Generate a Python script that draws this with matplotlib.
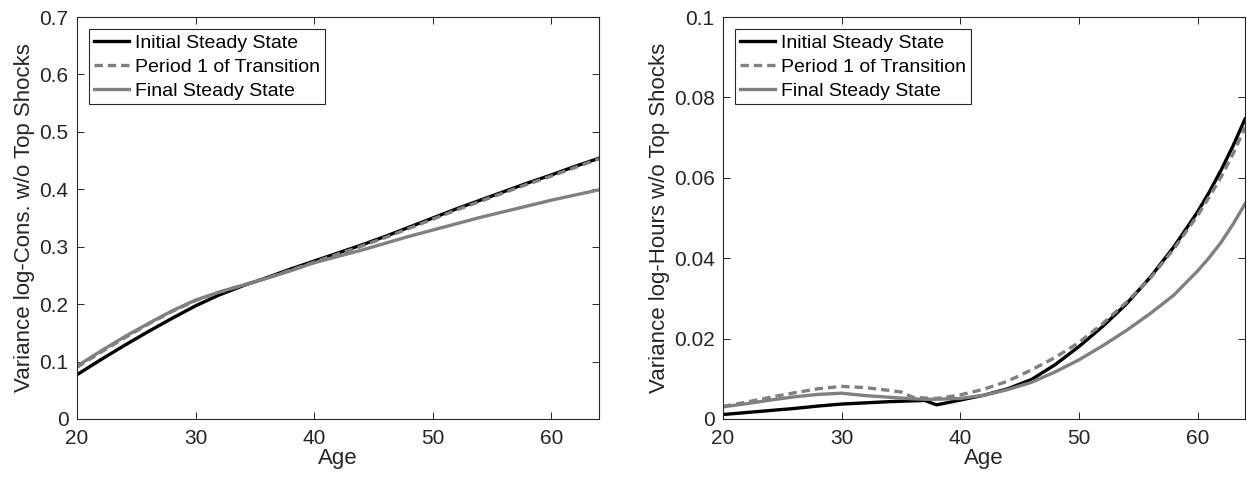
import matplotlib.pyplot as plt
import numpy as np

plt.rcParams['font.family'] = ['Liberation Sans', 'DejaVu Sans']

# left panel: variance log-consumption
age_c = [20, 22, 24, 26, 28, 30, 32, 34, 36, 38, 40, 42, 44, 46, 48, 50, 52, 54, 56, 58, 60, 62, 64]
cons_init = [0.077, 0.103, 0.128, 0.152, 0.175, 0.197, 0.216, 0.232, 0.246, 0.261, 0.275, 0.289,
             0.303, 0.318, 0.334, 0.350, 0.366, 0.381, 0.396, 0.411, 0.425, 0.440, 0.454]
cons_trans = [0.090, 0.116, 0.141, 0.165, 0.187, 0.206, 0.221, 0.233, 0.245, 0.259, 0.273, 0.287,
              0.301, 0.316, 0.332, 0.348, 0.364, 0.379, 0.394, 0.409, 0.423, 0.438, 0.453]
cons_final = [0.092, 0.118, 0.143, 0.166, 0.188, 0.207, 0.221, 0.233, 0.245, 0.258, 0.272, 0.283,
              0.294, 0.306, 0.318, 0.329, 0.340, 0.351, 0.361, 0.371, 0.381, 0.390, 0.399]

# right panel: variance log-hours
age_h = [20, 22, 24, 26, 28, 30, 32, 34, 35, 36, 37, 38, 39, 40, 42, 44, 46, 48, 50, 52, 54,
         56, 58, 60, 61, 62, 63, 64]
hrs_init = [0.0011, 0.0016, 0.0021, 0.0026, 0.0032, 0.0037, 0.0040, 0.0043, 0.0044, 0.0045,
            0.0046, 0.0035, 0.0041, 0.0047, 0.0059, 0.0075, 0.0098, 0.0135, 0.0180, 0.0230,
            0.0286, 0.0352, 0.0428, 0.0515, 0.0565, 0.0620, 0.0680, 0.0746]
hrs_trans = [0.0031, 0.0042, 0.0054, 0.0065, 0.0075, 0.0081, 0.0078, 0.0071, 0.0067, 0.0054,
             0.0052, 0.0051, 0.0055, 0.0060, 0.0074, 0.0094, 0.0122, 0.0153, 0.0190, 0.0237,
             0.0290, 0.0350, 0.0423, 0.0506, 0.0553, 0.0603, 0.0660, 0.0725]
hrs_final = [0.0030, 0.0038, 0.0047, 0.0055, 0.0061, 0.0064, 0.0058, 0.0054, 0.0052, 0.0050,
             0.0049, 0.0049, 0.0050, 0.0051, 0.0059, 0.0073, 0.0091, 0.0117, 0.0147, 0.0182,
             0.0220, 0.0262, 0.0308, 0.0368, 0.0402, 0.0440, 0.0485, 0.0535]

labels = ['Initial Steady State', 'Period 1 of Transition', 'Final Steady State']
gray = (0.5, 0.5, 0.5)
dark = '#262626'

fig = plt.figure(figsize=(12.47, 4.86), dpi=100)
ax1 = fig.add_axes([0.0617, 0.138, 0.4186, 0.827])
ax2 = fig.add_axes([0.5798, 0.138, 0.4186, 0.827])


def draw(ax, age, init, trans, final, ymax, yticks, ylabel):
    ax.plot(age, init, color='k', lw=2.4, label=labels[0])
    ax.plot(age, trans, color=gray, lw=2.4, ls=(0, (2.5, 1.5)), label=labels[1])
    ax.plot(age, final, color=gray, lw=2.4, label=labels[2])
    ax.set_xlim(20, 64)
    ax.set_ylim(0, ymax)
    ax.set_xticks([20, 30, 40, 50, 60])
    ax.set_yticks(yticks)
    ax.set_yticklabels([('%g' % t) for t in yticks])
    ax.tick_params(direction='in', labelsize=15, length=5, top=True, right=True,
                   colors=dark, width=0.7)
    ax.tick_params(axis='x', pad=7)
    ax.tick_params(axis='y', pad=6)
    for s in ax.spines.values():
        s.set_linewidth(0.8)
        s.set_color(dark)
    ax.set_xlabel('Age', fontsize=16, color=dark, labelpad=0)
    ax.set_ylabel(ylabel, fontsize=16, color=dark, labelpad=3)
    leg = ax.legend(loc='upper left', bbox_to_anchor=(0.023, 0.970), borderaxespad=0,
                    fontsize=14, fancybox=False, framealpha=1, edgecolor=dark,
                    handlelength=1.8, handletextpad=0.3, borderpad=0.25, labelspacing=0.33)
    leg.get_frame().set_linewidth(0.8)


draw(ax1, age_c, cons_init, cons_trans, cons_final, 0.7,
     [0, 0.1, 0.2, 0.3, 0.4, 0.5, 0.6, 0.7], 'Variance log-Cons. w/o Top Shocks')
draw(ax2, age_h, hrs_init, hrs_trans, hrs_final, 0.1,
     [0, 0.02, 0.04, 0.06, 0.08, 0.1], 'Variance log-Hours w/o Top Shocks')

fig.savefig('out.png', dpi=100)
